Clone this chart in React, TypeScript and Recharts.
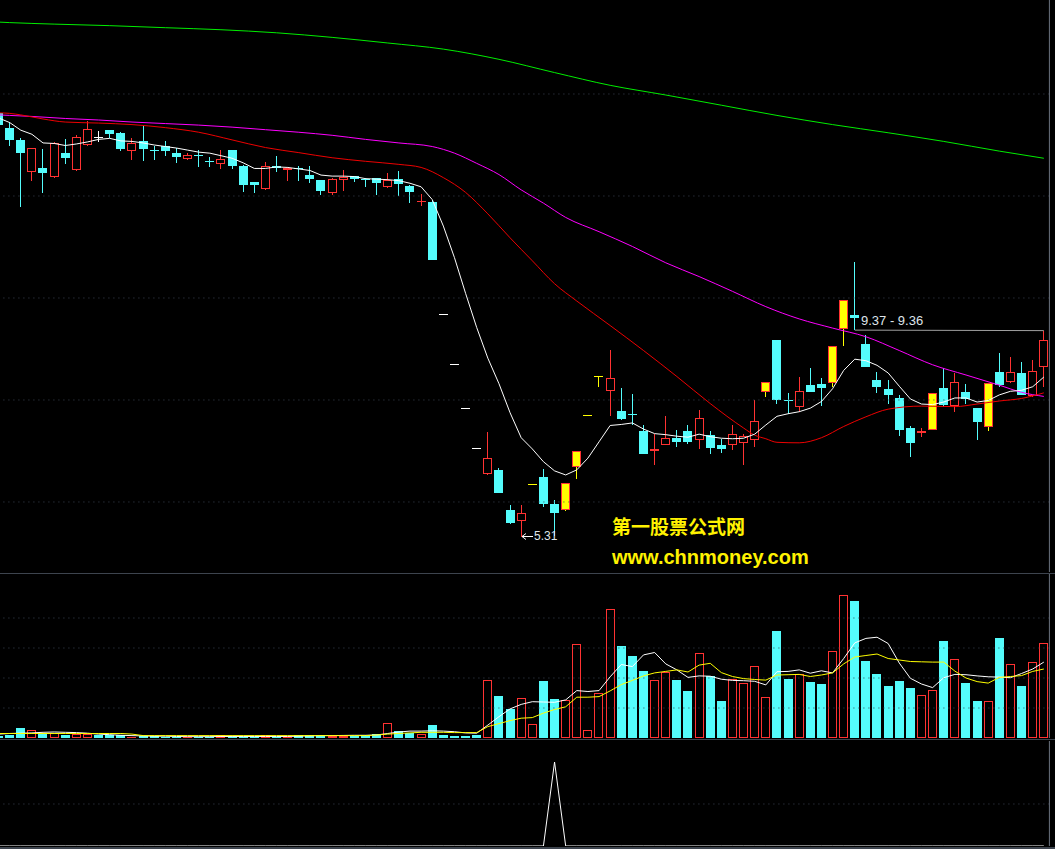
import React from 'react';
import { ComposedChart, Bar, Line, XAxis, YAxis, ReferenceLine } from 'recharts';

// daily bars
const opens = [
  13.63, 13.33, 13.10, 12.48, 12.55, 12.38, 12.85, 12.50, 12.99, 13.16,
  13.29, 13.24, 12.89, 13.07, 12.92, 12.98, 12.85, 12.73, 12.81, 12.69,
  12.63, 12.90, 12.59, 12.27, 12.14, 12.59, 12.50, 12.55, 12.41, 12.31,
  12.06, 12.32, 12.39, 12.34, 12.35, 12.18, 12.33, 12.20, 11.90, 11.88,
  9.68, 8.71, 7.84, 7.06, 6.54, 6.63, 5.84, 5.62, 6.36, 6.49,
  5.96, 5.84, 6.69, 7.70, 8.47, 8.17, 7.79, 7.73, 7.39, 6.99,
  7.12, 7.26, 7.39, 7.21, 7.31, 7.12, 7.12, 7.15, 7.21, 8.16,
  9.18, 8.01, 7.87, 8.29, 8.31, 8.33, 9.40, 9.66, 9.09, 8.39,
  8.21, 8.03, 7.45, 7.35, 7.41, 8.23, 7.88, 8.15, 7.84, 7.48,
  8.55, 8.35, 8.52, 8.07, 8.64,
];
const highs = [
  13.69, 13.45, 13.13, 12.95, 12.92, 13.06, 13.12, 13.20, 13.47, 13.27,
  13.30, 13.25, 13.13, 13.37, 12.99, 13.08, 12.95, 12.84, 12.90, 12.77,
  12.90, 12.91, 12.60, 12.28, 12.67, 12.78, 12.56, 12.59, 12.59, 12.32,
  12.36, 12.51, 12.40, 12.35, 12.36, 12.46, 12.49, 12.21, 12.03, 11.92,
  9.68, 8.71, 7.84, 7.06, 7.37, 6.66, 5.94, 5.94, 6.36, 6.64,
  6.03, 6.37, 7.00, 7.70, 8.47, 8.98, 8.23, 8.12, 7.51, 7.33,
  7.69, 7.41, 7.51, 7.80, 7.39, 7.24, 7.51, 7.33, 8.00, 8.35,
  9.18, 8.14, 8.46, 8.63, 8.44, 9.06, 9.96, 10.70, 9.27, 8.54,
  8.39, 8.10, 7.49, 7.45, 8.13, 8.63, 8.52, 8.31, 7.85, 8.33,
  8.93, 8.84, 8.74, 8.78, 9.36,
];
const lows = [
  13.29, 12.99, 11.79, 12.30, 12.06, 12.36, 12.63, 12.49, 12.98, 13.05,
  13.13, 12.88, 12.71, 12.69, 12.71, 12.79, 12.65, 12.71, 12.57, 12.57,
  12.52, 12.52, 12.08, 12.06, 12.12, 12.48, 12.30, 12.30, 12.26, 12.01,
  12.01, 12.10, 12.28, 12.17, 12.01, 12.16, 11.99, 11.87, 11.80, 10.74,
  9.68, 8.71, 7.84, 7.06, 6.53, 6.17, 5.57, 5.31, 6.36, 5.91,
  5.33, 5.83, 6.45, 7.70, 8.26, 7.69, 7.61, 7.51, 6.94, 6.73,
  7.11, 7.08, 7.14, 7.04, 6.95, 6.96, 7.01, 6.73, 7.08, 8.05,
  7.92, 7.72, 7.77, 8.15, 7.89, 8.25, 9.06, 9.37, 8.64, 8.14,
  7.92, 7.30, 6.89, 7.28, 7.41, 7.87, 7.77, 7.92, 7.22, 7.40,
  8.26, 8.34, 8.09, 8.06, 8.25,
];
const closes = [
  13.39, 13.10, 12.85, 12.94, 12.46, 13.03, 12.75, 13.15, 13.31, 13.16,
  13.22, 12.92, 13.03, 12.92, 12.90, 12.89, 12.76, 12.80, 12.79, 12.66,
  12.73, 12.59, 12.22, 12.22, 12.59, 12.55, 12.55, 12.53, 12.34, 12.10,
  12.33, 12.37, 12.33, 12.32, 12.26, 12.31, 12.23, 12.08, 11.91, 10.75,
  9.68, 8.71, 7.84, 7.06, 6.86, 6.18, 5.58, 5.78, 6.36, 5.97,
  5.79, 6.37, 7.00, 7.70, 8.47, 8.44, 7.63, 7.71, 6.95, 7.04,
  7.25, 7.18, 7.18, 7.64, 7.05, 7.04, 7.33, 7.29, 7.59, 8.35,
  8.00, 7.99, 8.17, 8.16, 8.24, 9.06, 9.96, 9.61, 8.65, 8.26,
  8.10, 7.41, 7.16, 7.39, 8.13, 7.90, 8.36, 8.01, 7.57, 8.33,
  8.29, 8.54, 8.10, 8.57, 9.18,
];
const volumes = [
  0.8, 1.0, 3.3, 2.6, 1.8, 1.8, 1.0, 1.3, 1.3, 0.9,
  0.9, 0.9, 0.4, 0.7, 0.7, 0.4, 0.2, 0.4, 0.4, 0.4,
  1.0, 0.4, 0.4, 0.4, 1.0, 0.4, 0.4, 1.0, 1.0, 1.0,
  0.8, 0.8, 0.8, 1.0, 1.4, 4.9, 2.3, 1.7, 1.4, 4.3,
  1.0, 0.7, 0.7, 1.0, 19.2, 14.0, 9.7, 13.2, 4.6, 19.0,
  13.0, 12.7, 31.2, 2.6, 14.9, 43.0, 30.7, 27.3, 22.3, 19.2,
  21.9, 19.3, 15.7, 28.2, 20.7, 12.3, 19.8, 18.2, 23.9, 13.6,
  35.7, 19.7, 21.2, 18.7, 18.0, 28.9, 47.6, 45.7, 25.7, 21.3,
  17.3, 19.0, 16.7, 14.2, 15.9, 32.3, 26.2, 18.3, 12.3, 12.2,
  33.3, 24.6, 17.3, 25.2, 31.6,
];

// price averages
const maWhite = [
  13.53, 13.44, 13.29, 13.21, 13.04, 13.03, 12.99, 13.02, 13.06, 13.11,
  13.13, 13.08, 13.07, 13.04, 13.00, 12.97, 12.94, 12.90, 12.86, 12.84,
  12.79, 12.74, 12.65, 12.54, 12.54, 12.57, 12.56, 12.53, 12.50, 12.41,
  12.39, 12.39, 12.38, 12.34, 12.33, 12.32, 12.30, 12.25, 12.18, 11.93,
  11.41, 10.79, 10.09, 9.42, 8.82, 8.32, 7.75, 7.26, 7.04, 6.79,
  6.61, 6.53, 6.63, 6.86, 7.18, 7.50, 7.52, 7.55, 7.43, 7.34,
  7.32, 7.29, 7.27, 7.33, 7.28, 7.25, 7.24, 7.25, 7.33, 7.51,
  7.68, 7.73, 7.77, 7.84, 7.97, 8.22, 8.58, 8.80, 8.77, 8.68,
  8.53, 8.27, 8.02, 7.92, 7.91, 7.96, 8.04, 8.04, 7.96, 7.99,
  8.10, 8.17, 8.19, 8.26, 8.45,
];
const maRedPts: [number, number][] = [
  [0, 13.63], [1, 13.62], [2, 13.59], [4, 13.51], [6, 13.45], [9, 13.43], [12, 13.40],
  [15, 13.34], [18, 13.25], [21, 13.10], [24, 12.95], [27, 12.85], [30, 12.75],
  [33, 12.68], [36, 12.62], [38, 12.56], [40, 12.36], [42, 12.07], [44, 11.65],
  [46, 11.18], [48, 10.73], [50, 10.28], [52, 9.94], [55, 9.46], [58, 8.97],
  [61, 8.46], [64, 7.93], [67, 7.45], [68, 7.31], [69, 7.24], [70, 7.17],
  [72, 7.16], [74, 7.26], [76, 7.48], [78, 7.67], [80, 7.82], [83, 7.88],
  [86, 7.87], [88, 7.92], [90, 7.98], [92, 8.03], [94, 8.14],
];
const maMagentaPts: [number, number][] = [
  [0, 13.59], [1, 13.58], [3, 13.56], [6, 13.52], [9, 13.49], [12, 13.45], [15, 13.42],
  [18, 13.39], [21, 13.35], [24, 13.30], [27, 13.25], [30, 13.19], [33, 13.11],
  [36, 13.04], [39, 12.97], [41, 12.84], [43, 12.64], [45, 12.42], [47, 12.12],
  [49, 11.86], [51, 11.58], [54, 11.30], [57, 11.01], [60, 10.69], [63, 10.42],
  [66, 10.13], [69, 9.83], [72, 9.59], [75, 9.41], [78, 9.24], [81, 8.97],
  [84, 8.69], [87, 8.49], [90, 8.29], [92, 8.15], [94, 8.07],
];
const maGreenPts: [number, number][] = [
  [0, 15.41], [1, 15.40], [5, 15.37], [10, 15.34], [15, 15.30], [20, 15.26], [25, 15.20],
  [30, 15.11], [35, 15.00], [40, 14.88], [45, 14.68], [50, 14.42], [55, 14.17],
  [60, 13.98], [65, 13.78], [70, 13.58], [75, 13.40], [80, 13.24], [85, 13.07],
  [90, 12.88], [94, 12.74],
];
const trendPts: [number, number][] = [[77, 9.37], [94, 9.36]];

// volume averages
const volMa5 = [
  1.3, 1.5, 1.6, 1.7, 1.9, 2.0, 1.9, 1.8, 1.6, 1.3,
  1.1, 0.9, 0.8, 0.7, 0.6, 0.6, 0.5, 0.45, 0.45, 0.45,
  0.5, 0.5, 0.5, 0.5, 0.5, 0.5, 0.5, 0.6, 0.7, 0.8,
  0.8, 0.85, 0.9, 0.9, 1.0, 1.5, 2.0, 2.3, 2.3, 2.4,
  2.3, 2.1, 1.7, 1.6, 4.3, 7.1, 9.7, 11.2, 12.1, 12.0,
  11.9, 12.7, 15.8, 15.5, 15.8, 20.4, 24.5, 23.8, 27.7, 28.5,
  24.7, 22.7, 20.2, 20.7, 20.6, 19.6, 19.2, 19.1, 18.9, 17.7,
  22.1, 22.2, 22.7, 21.6, 22.4, 21.7, 26.5, 31.7, 33.2, 33.6,
  31.5, 25.0, 19.9, 18.0, 16.8, 20.1, 21.2, 21.1, 20.7, 20.4,
  20.3, 20.1, 21.5, 23.0, 25.3,
];
const volMa10 = [
  1.5, 1.5, 1.5, 1.5, 1.5, 1.5, 1.5, 1.5, 1.5, 1.5,
  1.5, 1.5, 1.3, 0.8, 0.8, 0.8, 0.8, 0.8, 0.8, 0.8,
  0.8, 0.8, 0.8, 0.8, 0.8, 0.8, 0.8, 0.8, 0.8, 0.8,
  0.8, 0.8, 0.8, 0.8, 1.0, 1.3, 1.5, 1.7, 1.9, 1.9,
  1.9, 1.8, 1.8, 1.8, 3.8, 4.8, 5.8, 6.6, 6.8, 8.3,
  9.5, 10.4, 13.6, 13.6, 13.8, 15.7, 17.8, 19.2, 20.7, 21.7,
  22.2, 22.7, 22.0, 24.3, 24.9, 21.8, 20.5, 19.8, 19.5, 19.3,
  21.0, 21.1, 21.2, 20.5, 21.0, 21.7, 24.7, 27.0, 27.5, 28.0,
  26.5, 26.0, 25.5, 25.4, 25.3, 25.3, 22.3, 20.0, 18.8, 18.3,
  20.2, 20.5, 20.8, 22.2, 23.0,
];

// bottom indicator: one signal day
const signalDays = [50];

const PRICE_MIN = 4.627;
const PRICE_MAX = 15.843;
const VOL_MAX = 54.67;
const SIG_MAX = 1.25;

const CYAN = '#54FCFC';
const RED = '#FF3232';
const YELLOW = '#FFFF00';
const GRID = '#3a4352';
const AXIS = '#6b7380';
const SEP = '#3d444e';

const pick = (pts: [number, number][], i: number) => {
  const hit = pts.find((p) => p[0] === i);
  return hit ? hit[1] : null;
};

const data = opens.map((open, i) => {
  const high = highs[i];
  const low = lows[i];
  const close = closes[i];
  const prevClose = i > 0 ? closes[i - 1] : null;
  const flat = high === low;
  return {
    i,
    open,
    high,
    low,
    close,
    range: flat ? [low - 0.005, high + 0.005] : [low, high],
    limitUp: prevClose !== null && close >= prevClose * 1.095,
    volUp: close > open || (close === open && prevClose !== null && close >= prevClose),
    vol: volumes[i],
    maWhite: maWhite[i],
    maRed: pick(maRedPts, i),
    maMagenta: pick(maMagentaPts, i),
    maGreen: pick(maGreenPts, i),
    trend: pick(trendPts, i),
    volMa5: volMa5[i],
    volMa10: volMa10[i],
    sig: signalDays.includes(i) ? 1 : 0,
  };
});

function Candle(props: any) {
  const { x, y, width, height, payload } = props;
  if (!payload) return null;
  const [lo, hi] = payload.range;
  const k = height / (hi - lo);
  const py = (v: number) => y + (hi - v) * k;
  const left = Math.round(x);
  const w = Math.round(width);
  const cx = left + Math.floor(w / 2) + 0.5;
  const { open, high, low, close, limitUp } = payload;
  const yH = py(high);
  const yL = py(low);
  const top = Math.min(py(open), py(close));
  const bot = Math.max(py(open), py(close));
  const up = close > open;
  const down = close < open;
  const color = limitUp ? YELLOW : up ? RED : down ? CYAN : '#FFFFFF';
  const flat = bot - top < 1.5;

  if (flat) {
    const ym = Math.round((top + bot) / 2) + 0.5;
    return (
      <g shapeRendering="crispEdges">
        {yL - yH > 1 && <line x1={cx} x2={cx} y1={yH} y2={yL} stroke={color} />}
        <line x1={left} x2={left + w} y1={ym} y2={ym} stroke={color} />
      </g>
    );
  }
  const bt = Math.round(top);
  const bb = Math.round(bot);
  return (
    <g shapeRendering="crispEdges">
      {bt > yH && <line x1={cx} x2={cx} y1={yH} y2={bt} stroke={color} />}
      {yL > bb && <line x1={cx} x2={cx} y1={bb} y2={yL} stroke={color} />}
      {limitUp ? (
        <rect x={left + 0.5} y={bt + 0.5} width={w - 1} height={bb - bt - 1} fill={YELLOW} stroke={RED} />
      ) : up ? (
        <rect x={left + 0.5} y={bt + 0.5} width={w - 1} height={bb - bt - 1} fill="#000" stroke={RED} />
      ) : (
        <rect x={left} y={bt} width={w} height={bb - bt} fill={color} />
      )}
    </g>
  );
}

function VolBar(props: any) {
  const { x, y, width, height, payload } = props;
  if (!payload || height <= 0) return null;
  const left = Math.round(x);
  const w = Math.round(width);
  const t = Math.round(y);
  const b = Math.round(y + height);
  if (payload.volUp) {
    return (
      <rect x={left + 0.5} y={t + 0.5} width={w - 1} height={Math.max(b - t - 1, 0.5)}
        fill="#000" stroke={RED} shapeRendering="crispEdges" />
    );
  }
  return <rect x={left} y={t} width={w} height={Math.max(b - t, 1)} fill={CYAN} shapeRendering="crispEdges" />;
}

const CHART_W = 1076.4;
const LEFT = -7.16;
const AXIS_W = 20;

const lineProps = { dot: false, activeDot: false, isAnimationActive: false } as const;

export default function App() {
  return (
    <div
      style={{
        position: 'absolute',
        left: 0,
        top: 0,
        width: 1055,
        height: 849,
        background: '#000',
        overflow: 'hidden',
      }}
    >
      {/* price panel */}
      <div style={{ position: 'absolute', left: LEFT, top: 0 }}>
        <ComposedChart width={CHART_W} height={572} data={data} margin={{ top: 0, right: 0, bottom: 0, left: 0 }}>
          <XAxis dataKey="i" hide />
          <YAxis
            orientation="right"
            width={AXIS_W}
            domain={[PRICE_MIN, PRICE_MAX]}
            allowDataOverflow
            ticks={[5, 6, 7, 8, 9, 10, 11, 12, 13, 14, 15]}
            interval={0}
            tick={false}
            tickSize={4}
            axisLine={{ stroke: AXIS }}
            tickLine={{ stroke: AXIS }}
          />
          {[6, 8, 10, 12, 14].map((v) => (
            <ReferenceLine key={v} y={v} stroke={GRID} strokeDasharray="1 4" />
          ))}
          <Bar dataKey="range" barSize={9} shape={<Candle />} isAnimationActive={false} />
          <Line dataKey="maGreen" type="monotone" stroke="#00EE00" connectNulls {...lineProps} />
          <Line dataKey="maMagenta" type="monotone" stroke="#FF00FF" connectNulls {...lineProps} />
          <Line dataKey="maRed" type="monotone" stroke="#EE0000" connectNulls {...lineProps} />
          <Line dataKey="maWhite" type="linear" stroke="#FFFFFF" {...lineProps} />
          <Line dataKey="trend" type="linear" stroke="#a0a0a0" connectNulls {...lineProps} />
        </ComposedChart>
      </div>

      <div style={{ position: 'absolute', left: 0, top: 573, width: 1055, height: 1, background: SEP }} />

      {/* volume panel */}
      <div style={{ position: 'absolute', left: LEFT, top: 574 }}>
        <ComposedChart width={CHART_W} height={164} data={data} margin={{ top: 0, right: 0, bottom: 0, left: 0 }}>
          <XAxis dataKey="i" hide />
          <YAxis
            orientation="right"
            width={AXIS_W}
            domain={[0, VOL_MAX]}
            allowDataOverflow
            ticks={[5, 10, 15, 20, 25, 30, 35, 40, 45, 50]}
            interval={0}
            tick={false}
            tickSize={4}
            axisLine={{ stroke: AXIS }}
            tickLine={{ stroke: AXIS }}
          />
          {[10, 20, 30, 40].map((v) => (
            <ReferenceLine key={v} y={v} stroke={GRID} strokeDasharray="1 4" />
          ))}
          <Bar dataKey="vol" barSize={9} shape={<VolBar />} isAnimationActive={false} />
          <Line dataKey="volMa5" type="linear" stroke="#FFFFFF" {...lineProps} />
          <Line dataKey="volMa10" type="linear" stroke="#FFFF00" {...lineProps} />
        </ComposedChart>
      </div>

      <div style={{ position: 'absolute', left: 0, top: 739, width: 1055, height: 1, background: SEP }} />

      {/* signal panel */}
      <div style={{ position: 'absolute', left: LEFT, top: 741 }}>
        <ComposedChart width={CHART_W} height={105} data={data} margin={{ top: 0, right: 0, bottom: 0, left: 0 }}>
          <XAxis dataKey="i" hide scale="band" />
          <YAxis
            orientation="right"
            width={AXIS_W}
            domain={[0, SIG_MAX]}
            ticks={[0.5, 1]}
            interval={0}
            tick={false}
            tickSize={4}
            axisLine={{ stroke: AXIS }}
            tickLine={{ stroke: AXIS }}
          />
          <ReferenceLine y={0.5} stroke={GRID} strokeDasharray="1 4" />
          <Line dataKey="sig" type="linear" stroke="#FFFFFF" {...lineProps} />
        </ComposedChart>
      </div>

      <div style={{ position: 'absolute', left: 0, top: 847, width: 1055, height: 2, background: SEP }} />

      {/* annotations */}
      <svg width={1055} height={849} style={{ position: 'absolute', left: 0, top: 0, pointerEvents: 'none' }}>
        <text x={861} y={325} fontSize={13} fill="#dfe4ea" fontFamily="'Liberation Sans', Arial, sans-serif">
          9.37 - 9.36
        </text>
        <g stroke="#ffffff" fill="none" shapeRendering="crispEdges">
          <line x1={522} x2={533} y1={536.5} y2={536.5} />
          <polyline points="526,533.5 522,536.5 526,539.5" shapeRendering="auto" />
        </g>
        <text x={534} y={540} fontSize={12} fill="#dfe4ea" fontFamily="'Liberation Sans', Arial, sans-serif">
          5.31
        </text>
        <text x={612} y={534} fontSize={19} fontWeight="bold" fill="#FFF200" fontFamily="'Noto Sans CJK SC', sans-serif">
          第一股票公式网
        </text>
        <text x={612} y={564} fontSize={20} fontWeight="bold" fill="#FFF200" fontFamily="'Liberation Sans', Arial, sans-serif">
          www.chnmoney.com
        </text>
      </svg>
    </div>
  );
}
